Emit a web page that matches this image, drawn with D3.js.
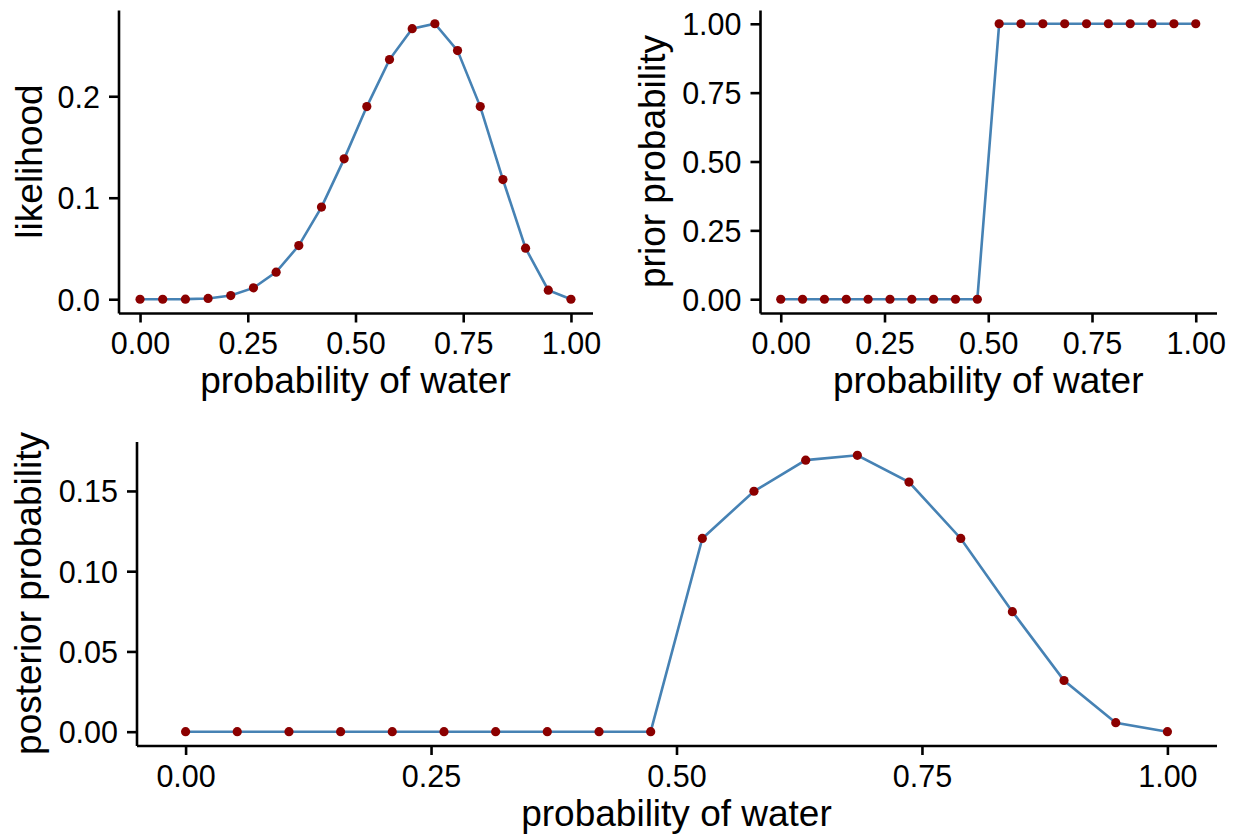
<!DOCTYPE html>
<html>
<head>
<meta charset="utf-8">
<script src="https://cdn.jsdelivr.net/npm/d3@7"></script>
<style>
  body { margin: 0; background: #fff; }
  svg text { font-family: "Liberation Sans", Arial, Helvetica, sans-serif; fill: #000; }
</style>
</head>
<body>
<svg id="chart" width="1239" height="839"></svg>
<script>
// grid of 20 candidate values for p
const pGrid = [0, 0.0526, 0.1053, 0.1579, 0.2105, 0.2632, 0.3158, 0.3684, 0.4211, 0.4737,
               0.5263, 0.5789, 0.6316, 0.6842, 0.7368, 0.7895, 0.8421, 0.8947, 0.9474, 1];
const likelihood = [0, 0.0000015, 0.0000819, 0.000777, 0.0036, 0.0112, 0.0267, 0.0529, 0.0908, 0.1383,
                    0.1898, 0.2361, 0.2666, 0.2714, 0.2450, 0.1898, 0.1179, 0.0503, 0.0089, 0];
const prior = [0, 0, 0, 0, 0, 0, 0, 0, 0, 0,
               1, 1, 1, 1, 1, 1, 1, 1, 1, 1];
const posterior = [0, 0, 0, 0, 0, 0, 0, 0, 0, 0,
                   0.1204, 0.1498, 0.1692, 0.1722, 0.1555, 0.1204, 0.0748, 0.0319, 0.0056, 0];
const xTicks = [0, 0.25, 0.5, 0.75, 1];
const xTitle = 'probability of water';

const lineColor = '#4682B4';   // steelblue
const pointColor = '#8B0000';  // darkred
const tickFont = 30.5;
const titleFont = 37;
const tickLen = 9.5;
const axisWidth = 2.6;

const svg = d3.select('#chart');

function drawPanel(cfg) {
    const data = pGrid.map((p, i) => ({ p, v: cfg.values[i] }));

    // ggplot-style 5% expansion on both axes
    const [xmin, xmax] = d3.extent(pGrid);
    const [ymin, ymax] = d3.extent(cfg.values);
    const xpad = (xmax - xmin) * 0.05, ypad = (ymax - ymin) * 0.05;

    const x = d3.scaleLinear().domain([xmin - xpad, xmax + xpad]).range([cfg.left, cfg.right]);
    const y = d3.scaleLinear().domain([ymin - ypad, ymax + ypad]).range([cfg.bottom, cfg.top]);

    const g = svg.append('g');

    // x axis
    const xAxis = g.append('g')
        .attr('transform', `translate(0,${cfg.bottom})`)
        .call(d3.axisBottom(x).tickValues(xTicks).tickFormat(d3.format('.2f'))
            .tickSize(tickLen).tickSizeOuter(0).tickPadding(10));
    // y axis
    const yAxis = g.append('g')
        .attr('transform', `translate(${cfg.left},0)`)
        .call(d3.axisLeft(y).tickValues(cfg.yTicks).tickFormat(d3.format(cfg.yFormat))
            .tickSize(tickLen).tickSizeOuter(0).tickPadding(9));

    [xAxis, yAxis].forEach(ax => {
        ax.attr('font-family', null).attr('font-size', null);
        ax.select('.domain').attr('stroke', '#000').attr('stroke-width', axisWidth);
        ax.selectAll('.tick line').attr('stroke', '#000').attr('stroke-width', axisWidth);
        ax.selectAll('.tick text').attr('fill', '#000').style('font-size', tickFont + 'px');
    });
    yAxis.selectAll('.tick text').attr('dy', '0.36em');

    // axis titles
    g.append('text')
        .attr('x', (cfg.left + cfg.right) / 2)
        .attr('y', cfg.bottom + 80)
        .attr('text-anchor', 'middle')
        .style('font-size', titleFont + 'px')
        .text(xTitle);

    g.append('text')
        .attr('transform', `translate(${cfg.yTitleX},${(cfg.top + cfg.bottom) / 2}) rotate(-90)`)
        .attr('text-anchor', 'middle')
        .style('font-size', titleFont + 'px')
        .text(cfg.yTitle);

    // line + points
    g.append('path')
        .datum(data)
        .attr('fill', 'none')
        .attr('stroke', lineColor)
        .attr('stroke-width', 2.6)
        .attr('d', d3.line().x(d => x(d.p)).y(d => y(d.v)));

    g.selectAll('circle')
        .data(data)
        .join('circle')
        .attr('cx', d => x(d.p))
        .attr('cy', d => y(d.v))
        .attr('r', 4.6)
        .attr('fill', pointColor);
}

drawPanel({ values: likelihood, yTitle: 'likelihood', yTicks: [0, 0.1, 0.2], yFormat: '.1f',
            left: 118.5, right: 592.5, top: 10, bottom: 313, yTitleX: 42 });
drawPanel({ values: prior, yTitle: 'prior probability', yTicks: [0, 0.25, 0.5, 0.75, 1], yFormat: '.2f',
            left: 760, right: 1216.5, top: 10, bottom: 313, yTitleX: 665 });
drawPanel({ values: posterior, yTitle: 'posterior probability', yTicks: [0, 0.05, 0.1, 0.15], yFormat: '.2f',
            left: 136.5, right: 1216.5, top: 441.5, bottom: 745.5, yTitleX: 41 });
</script>
</body>
</html>
